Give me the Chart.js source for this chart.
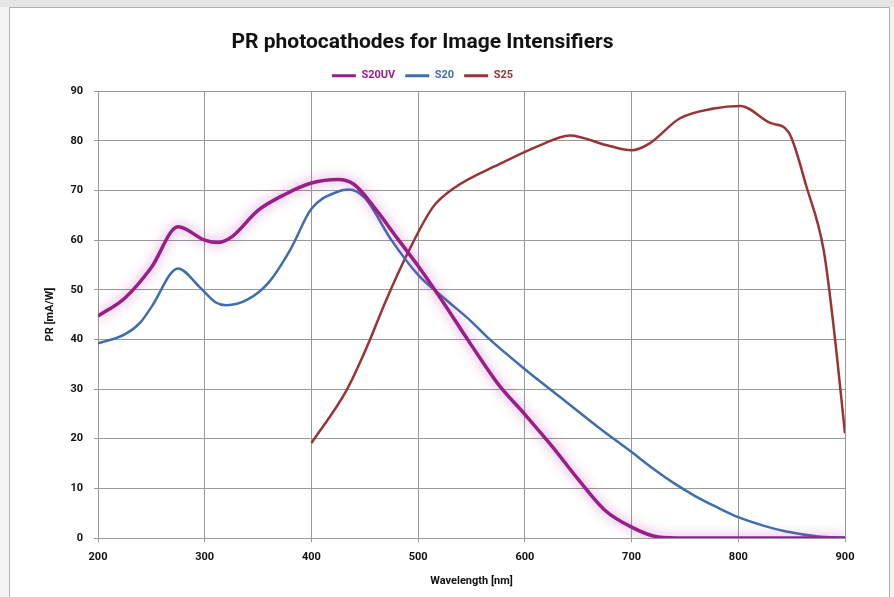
<!DOCTYPE html>
<html>
<head>
<meta charset="utf-8">
<script src="https://cdn.jsdelivr.net/npm/chart.js@4.4.1/dist/chart.umd.min.js"></script>
<style>
    html, body { margin: 0; padding: 0; background: #f4f4f4; }
    .strip { position: absolute; left: 0; top: 0; width: 894px; height: 7px; background: #e6e6e6; }
    .card { position: absolute; left: 9px; top: 7px; width: 881px; height: 600px; background: #fff; border: 1px solid #b3b3b3; box-sizing: border-box; }
    canvas { position: absolute; left: 0; top: 0; }
</style>
</head>
<body>
<div class="strip"></div>
<div class="card"></div>
<canvas id="prChart" width="894" height="597"></canvas>
<script>
// Wavelength [nm] / PR [mA/W]
const s20uvNm = [200, 225, 250, 275, 300, 312, 325, 350, 375, 400, 425, 440, 460, 480, 500, 520, 550, 575, 600, 625, 650, 675, 700, 725, 750, 800, 850, 900];
const s20uvPr = [44.7, 48.3, 54.5, 62.7, 60.0, 59.5, 60.6, 66.0, 69.2, 71.5, 72.2, 71.2, 66.3, 60.5, 54.8, 48.6, 38.8, 31.0, 24.9, 18.6, 11.8, 5.6, 2.2, 0.2, 0, 0, 0, 0];

const s20Nm = [200, 225, 240, 250, 275, 295, 310, 320, 340, 360, 380, 400, 425, 435, 450, 475, 500, 525, 550, 565, 600, 633, 670, 700, 720, 740, 760, 780, 800, 825, 845, 875, 900];
const s20Pr = [39.2, 41.0, 43.5, 46.5, 54.3, 50.6, 47.5, 46.9, 48.0, 51.5, 58.0, 66.3, 69.8, 70.2, 68.5, 60.0, 53.0, 48.2, 43.6, 40.4, 34.0, 28.4, 22.1, 17.3, 14.0, 11.0, 8.4, 6.2, 4.2, 2.4, 1.3, 0.3, 0];

const s25Nm = [400, 433, 452, 470, 490, 514, 533, 577, 614, 642, 677, 700, 717, 745, 777, 802, 830, 847, 864, 880, 889, 900];
const s25Pr = [19.1, 29.8, 38.5, 47.9, 57.3, 66.7, 70.4, 75.4, 79.1, 81.1, 79.1, 78.1, 79.5, 84.5, 86.5, 87.0, 83.6, 81.8, 70.7, 58.0, 43.2, 21.1];

const xTicks = [200, 300, 400, 500, 600, 700, 800, 900];
const yTicks = [0, 10, 20, 30, 40, 50, 60, 70, 80, 90];

const toPoints = (xs, ys) => xs.map((x, i) => ({ x: x, y: ys[i] }));

const labelFont = { family: "Roboto, sans-serif", size: 11, weight: 'bold' };
const gridColor = '#999999';

// soft halo round the S20UV curve
const glow = {
    id: 'glow',
    beforeDatasetDraw(chart, args) {
        if (args.index !== 0) return;
        chart.ctx.save();
        chart.ctx.shadowColor = 'rgba(170, 40, 160, 0.6)';
        chart.ctx.shadowBlur = 12;
    },
    afterDatasetDraw(chart, args) {
        if (args.index === 0) chart.ctx.restore();
    }
};

new Chart(document.getElementById('prChart'), {
    type: 'line',
    data: {
        datasets: [{
            label: 'S20UV',
            data: toPoints(s20uvNm, s20uvPr),
            borderColor: '#9b1d8a',
            backgroundColor: '#9b1d8a',
            borderWidth: 3.5
        }, {
            label: 'S20',
            data: toPoints(s20Nm, s20Pr),
            borderColor: '#3f6eae',
            backgroundColor: '#3f6eae',
            borderWidth: 2.5
        }, {
            label: 'S25',
            data: toPoints(s25Nm, s25Pr),
            borderColor: '#9a3434',
            backgroundColor: '#9a3434',
            borderWidth: 2.5
        }]
    },
    options: {
        responsive: false,
        animation: false,
        layout: { padding: { left: 0, right: 49, top: 0, bottom: 0 } },
        elements: {
            point: { radius: 0 },
            line: { cubicInterpolationMode: 'monotone', fill: false }
        },
        plugins: {
            title: {
                display: true,
                text: 'PR photocathodes for Image Intensifiers',
                color: '#111',
                font: { family: "Roboto, 'Open Sans', sans-serif", size: 21, weight: 'bold' },
                padding: { top: 30, bottom: 5 }
            },
            legend: {
                labels: {
                    boxWidth: 24,
                    boxHeight: 3,
                    padding: 10,
                    font: labelFont,
                    generateLabels(chart) {
                        return Chart.defaults.plugins.legend.labels.generateLabels(chart).map(item => {
                            const ds = chart.data.datasets[item.datasetIndex];
                            item.fontColor = ds.borderColor;
                            item.fillStyle = ds.borderColor;
                            item.lineWidth = 0;
                            return item;
                        });
                    }
                }
            },
            tooltip: { enabled: false }
        },
        scales: {
            x: {
                type: 'linear',
                min: 200,
                max: 900,
                afterFit(scale) { scale.height = 59; },
                afterBuildTicks(scale) { scale.ticks = xTicks.map(v => ({ value: v })); },
                ticks: { color: '#111', font: labelFont, padding: 9, maxRotation: 0 },
                grid: { color: gridColor, tickLength: 4 },
                border: { color: gridColor },
                title: {
                    display: true,
                    text: 'Wavelength [nm]',
                    color: '#111',
                    font: labelFont,
                    padding: { top: 0, bottom: 9 }
                }
            },
            y: {
                min: 0,
                max: 90,
                afterFit(scale) { scale.width = 98; },
                afterBuildTicks(scale) { scale.ticks = yTicks.map(v => ({ value: v })); },
                ticks: { color: '#111', font: labelFont, padding: 11 },
                grid: { color: gridColor, tickLength: 4 },
                border: { color: gridColor },
                title: {
                    display: true,
                    text: 'PR [mA/W]',
                    color: '#111',
                    font: labelFont,
                    padding: { top: 44, bottom: 0 }
                }
            }
        }
    },
    plugins: [glow]
});
</script>
</body>
</html>
